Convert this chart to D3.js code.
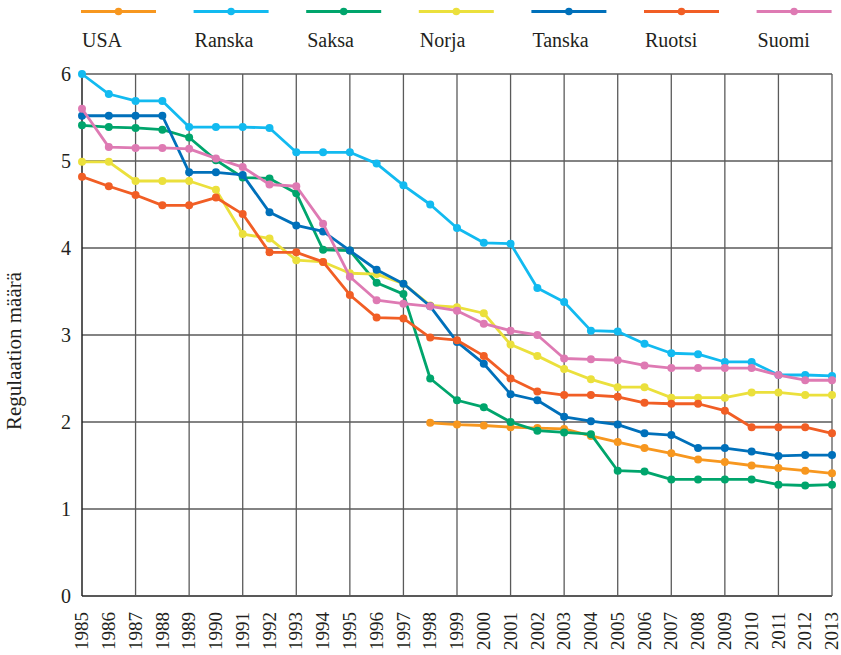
<!DOCTYPE html>
<html>
<head>
<meta charset="utf-8">
<script src="https://cdn.jsdelivr.net/npm/d3@7"></script>
<style>
  html, body { margin: 0; padding: 0; background: #fff; }
  svg { display: block; }
  svg text { font-family: "Liberation Serif", "DejaVu Serif", "Times New Roman", Times, serif; }
</style>
</head>
<body>
<svg id="chart" width="841" height="655"></svg>
<script>
const years = d3.range(1985, 2014);
const yTicks = [0, 1, 2, 3, 4, 5, 6];
const seriesNames = ["USA", "Ranska", "Saksa", "Norja", "Tanska", "Ruotsi", "Suomi"];
const seriesColors = ["#F7971F", "#12BAF0", "#00A56C", "#EBE03C", "#0070BA", "#F15E25", "#DE7AB3"];

// values per year 1985..2013 (null = no data)
const usa = [null, null, null, null, null, null, null, null, null, null, null, null, null,
  1.99, 1.97, 1.96, 1.94, 1.93, 1.92, 1.84, 1.77, 1.70, 1.64, 1.57, 1.54, 1.50, 1.47, 1.44, 1.41];
const ranska = [6.00, 5.77, 5.69, 5.69, 5.39, 5.39, 5.39, 5.38, 5.10, 5.10, 5.10, 4.97, 4.72,
  4.50, 4.23, 4.06, 4.05, 3.54, 3.38, 3.05, 3.04, 2.90, 2.79, 2.78, 2.69, 2.69, 2.54, 2.54, 2.53];
const saksa = [5.41, 5.39, 5.38, 5.36, 5.27, 5.01, 4.81, 4.80, 4.63, 3.98, 3.97, 3.60, 3.47,
  2.50, 2.25, 2.17, 2.00, 1.90, 1.88, 1.86, 1.44, 1.43, 1.34, 1.34, 1.34, 1.34, 1.28, 1.27, 1.28];
const norja = [4.99, 4.99, 4.77, 4.77, 4.77, 4.67, 4.16, 4.11, 3.86, 3.84, 3.71, 3.70, 3.59,
  3.34, 3.32, 3.25, 2.89, 2.76, 2.61, 2.49, 2.40, 2.40, 2.28, 2.28, 2.28, 2.34, 2.34, 2.31, 2.31];
const tanska = [5.52, 5.52, 5.52, 5.52, 4.87, 4.87, 4.84, 4.41, 4.26, 4.19, 3.97, 3.75, 3.59,
  3.33, 2.92, 2.67, 2.32, 2.25, 2.06, 2.01, 1.97, 1.87, 1.85, 1.70, 1.70, 1.66, 1.61, 1.62, 1.62];
const ruotsi = [4.82, 4.71, 4.61, 4.49, 4.49, 4.58, 4.39, 3.95, 3.95, 3.84, 3.46, 3.20, 3.19,
  2.97, 2.94, 2.76, 2.50, 2.35, 2.31, 2.31, 2.29, 2.22, 2.21, 2.21, 2.13, 1.94, 1.94, 1.94, 1.87];
const suomi = [5.60, 5.16, 5.15, 5.15, 5.14, 5.03, 4.93, 4.73, 4.71, 4.28, 3.67, 3.40, 3.36,
  3.33, 3.28, 3.13, 3.05, 3.00, 2.73, 2.72, 2.71, 2.65, 2.62, 2.62, 2.62, 2.62, 2.54, 2.48, 2.48];

const seriesValues = [usa, ranska, saksa, norja, tanska, ruotsi, suomi];
const yTitle = "Regulaation määrä";

const svg = d3.select("#chart");
const x = d3.scaleLinear().domain([1985, 2013]).range([82, 832]);
const y = d3.scaleLinear().domain([0, 6]).range([596, 74]);

const gridColor = "#5a5a5a";
const textColor = "#231f20";

// horizontal grid
svg.append("g").selectAll("line").data(yTicks).join("line")
  .attr("x1", x(1985)).attr("x2", x(2013))
  .attr("y1", d => y(d)).attr("y2", d => y(d))
  .attr("stroke", d => d === 0 ? "#222" : gridColor)
  .attr("stroke-width", d => d === 0 ? 1.5 : 1.3);

// vertical grid every 2 years
const vYears = years.filter(yr => (yr - 1985) % 2 === 0);
svg.append("g").selectAll("line").data(vYears).join("line")
  .attr("x1", d => x(d)).attr("x2", d => x(d))
  .attr("y1", y(6)).attr("y2", y(0))
  .attr("stroke", d => d === 1985 ? "#222" : gridColor)
  .attr("stroke-width", d => d === 1985 ? 1.5 : 1.3);

// y axis labels
const yAxis = d3.axisLeft(y).tickValues(yTicks).tickSize(0).tickPadding(0).tickFormat(d3.format("d"));
const gy = svg.append("g").attr("transform", "translate(71,0)").call(yAxis);
gy.attr("font-family", null).attr("font-size", null);
gy.select(".domain").remove();
gy.selectAll("text").style("font-size", "20px").attr("fill", textColor).attr("dy", "0.34em");

// x axis labels
const xAxis = d3.axisBottom(x).tickValues(years).tickSize(0).tickPadding(0).tickFormat(d3.format("d"));
const gx = svg.append("g").attr("transform", "translate(0,612)").call(xAxis);
gx.attr("font-family", null).attr("font-size", null);
gx.select(".domain").remove();
gx.selectAll("text")
  .style("font-size", "19px").attr("fill", textColor)
  .attr("text-anchor", "end").attr("transform", "rotate(-90)")
  .attr("x", 0).attr("y", 0).attr("dx", 0).attr("dy", "0.3em");

// y title
svg.append("text")
  .attr("transform", "translate(21,351) rotate(-90)")
  .attr("text-anchor", "middle")
  .style("font-size", "21px").attr("fill", textColor)
  .text(yTitle);

// series
const line = d3.line().defined(d => d.v !== null).x(d => x(d.year)).y(d => y(d.v));
seriesNames.forEach((name, i) => {
  const data = years.map((yr, j) => ({ year: yr, v: seriesValues[i][j] }));
  const g = svg.append("g");
  g.append("path").datum(data).attr("d", line)
    .attr("fill", "none").attr("stroke", seriesColors[i]).attr("stroke-width", 2.8)
    .attr("stroke-linejoin", "round");
  g.selectAll("circle").data(data.filter(d => d.v !== null)).join("circle")
    .attr("cx", d => x(d.year)).attr("cy", d => y(d.v)).attr("r", 4)
    .attr("fill", seriesColors[i]);
});

// legend
const leg = svg.append("g");
seriesNames.forEach((name, i) => {
  const x0 = 81 + i * 112.6;
  leg.append("line").attr("x1", x0).attr("x2", x0 + 75).attr("y1", 11.5).attr("y2", 11.5)
    .attr("stroke", seriesColors[i]).attr("stroke-width", 2.8);
  leg.append("circle").attr("cx", x0 + 37.5).attr("cy", 11.5).attr("r", 3.8).attr("fill", seriesColors[i]);
  leg.append("text").attr("x", x0 + 1).attr("y", 47).style("font-size", "20px").attr("fill", textColor).text(name);
});
</script>
</body>
</html>
